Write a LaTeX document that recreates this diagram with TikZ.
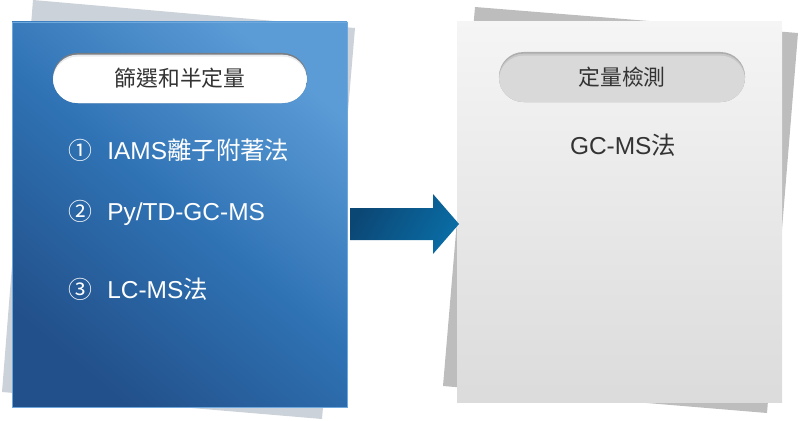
\documentclass[tikz,border=0pt]{standalone}
\usepackage{fontspec}
\setmainfont{Liberation Sans}
\newfontfamily\cjk{Noto Sans CJK TC}
\definecolor{blueLight}{HTML}{5B9BD6}
\definecolor{blueMid}{HTML}{2F72B4}
\definecolor{blueDark}{HTML}{22508A}
\definecolor{blueEdge}{HTML}{6FA8DC}
\definecolor{backBlue}{HTML}{CCD2DA}
\definecolor{backGray}{HTML}{BDBDBD}
\definecolor{arrowDark}{HTML}{0B4775}
\definecolor{arrowLight}{HTML}{0A6CA4}
\definecolor{textGray}{HTML}{333333}

\begin{document}
\begin{tikzpicture}[x=0.025cm, y=-0.025cm,
  pill/.style={minimum height=1.25cm, rounded corners=17.5pt, inner sep=0pt,
    text=textGray, font=\cjk\fontsize{15.5}{18}\selectfont},
  itemtext/.style={anchor=base west, inner sep=0pt, font=\fontsize{17.4}{20}\selectfont},
  itemnum/.style={anchor=base, inner sep=0pt, font=\cjk\fontsize{17}{20}\selectfont}]

  % back sheets
  \fill[backBlue] (33,0) -- (355,28) -- (322,419) -- (2,392) -- cycle;
  \fill[backGray] (475,7) -- (798,33) -- (767,413) -- (443,386) -- cycle;

  % front sheets
  \shade[top color=blueLight, bottom color=blueDark, middle color=blueMid, shading angle=-40]
    (12,22) rectangle (347,407);
  \draw[blueEdge, line width=0.6pt] (12,22) rectangle (347,407);
  \shade[top color=black!4, bottom color=black!14] (457,22) rectangle (782,402);

  % headers
  \node[pill, minimum width=6.35cm, fill=black!40!backBlue,
    path picture={
      \fill[white!55!backBlue, rounded corners=17.5pt] ([yshift=-1.2pt]path picture bounding box.north west) rectangle ([yshift=-1.2pt]path picture bounding box.south east);
      \fill[white, rounded corners=17.5pt] ([yshift=-2.6pt]path picture bounding box.north west) rectangle ([yshift=-2.6pt]path picture bounding box.south east);
    }] (screen) at (180,78) {篩選和半定量};
  \node[pill, minimum width=6.15cm, fill=black!32,
    path picture={
      \fill[black!22, rounded corners=17.5pt] ([yshift=-1.2pt]path picture bounding box.north west) rectangle ([yshift=-1.2pt]path picture bounding box.south east);
      \fill[black!15, rounded corners=17.5pt] ([yshift=-2.6pt]path picture bounding box.north west) rectangle ([yshift=-2.6pt]path picture bounding box.south east);
    }] (quant) at (622,77) {定量檢測};

  % screening methods
  \node[itemnum, text=white] (num1) at (80,159) {①};
  \node[itemtext, text=white] (iams) at (107,159) {IAMS{\cjk 離子附著法}};
  \node[itemnum, text=white] (num2) at (80,220) {②};
  \node[itemtext, text=white] (pygc) at (107,220) {Py/TD-GC-MS};
  \node[itemnum, text=white] (num3) at (80,298) {③};
  \node[itemtext, text=white] (lcms) at (107,298) {LC-MS{\cjk 法}};

  % quantitative method
  \node[itemtext, anchor=base, text=textGray] (gcms) at (623,154) {GC-MS{\cjk 法}};

  % block arrow
  \shade[left color=arrowDark, right color=arrowLight, shading angle=60]
    (350,208) -- (433,208) -- (433,194) -- (459,224) -- (433,254) -- (433,240) -- (350,240) -- cycle;

  \pgfresetboundingbox
  \useasboundingbox (0,0) rectangle (800,420);
\end{tikzpicture}
\end{document}
